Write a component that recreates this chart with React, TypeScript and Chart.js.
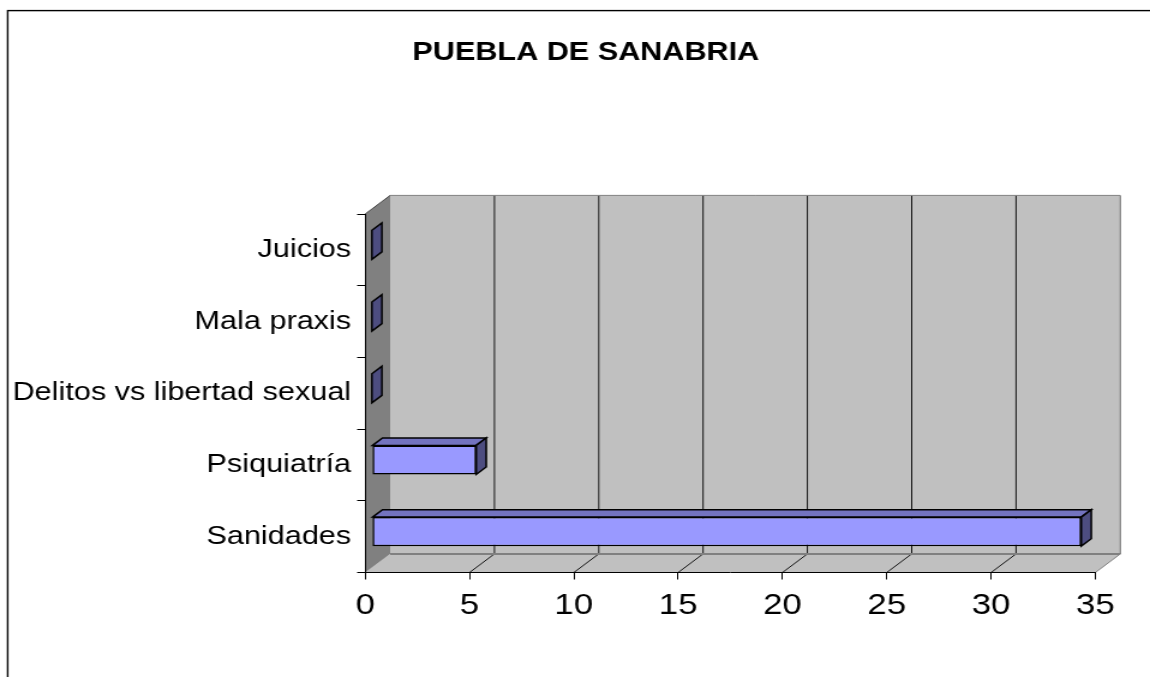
import React, { useEffect, useRef } from "react";
import { Chart, registerables } from "chart.js";

Chart.register(...registerables);

// ---- data ----
const chartTitle = "PUEBLA DE SANABRIA";
const categories = ["Juicios", "Mala praxis", "Delitos vs libertad sexual", "Psiquiatría", "Sanidades"];
const values = [0, 0, 0, 5, 34];
const xMin = 0;
const xMax = 35;
const xStep = 5;

// ---- layout (internal canvas units; canvas is stretched horizontally by CSS) ----
const CSS_W = 1150;
const CSS_H = 677;
const W = 958;
const H = 677;
const DX = 20.8; // depth offset x
const DY = 18.6; // depth offset y
const BAR_FRONT = 0.27;
const BAR_DEPTH = 0.4;
const FONT = "'Liberation Sans', Arial, sans-serif";

function poly(ctx: CanvasRenderingContext2D, pts: number[][], fill?: string, stroke?: string, lw = 1) {
  ctx.beginPath();
  ctx.moveTo(pts[0][0], pts[0][1]);
  for (let i = 1; i < pts.length; i++) ctx.lineTo(pts[i][0], pts[i][1]);
  ctx.closePath();
  if (fill) {
    ctx.fillStyle = fill;
    ctx.fill();
  }
  if (stroke) {
    ctx.strokeStyle = stroke;
    ctx.lineWidth = lw;
    ctx.stroke();
  }
}

function line(ctx: CanvasRenderingContext2D, x1: number, y1: number, x2: number, y2: number, color: string, lw: number) {
  ctx.beginPath();
  ctx.moveTo(x1, y1);
  ctx.lineTo(x2, y2);
  ctx.strokeStyle = color;
  ctx.lineWidth = lw;
  ctx.stroke();
}

const threeDPlugin = {
  id: "threeD",
  beforeDraw(chart: any) {
    const ctx: CanvasRenderingContext2D = chart.ctx;
    const { left: L, right: R, top: T, bottom: B } = chart.chartArea;
    const xs = chart.scales.x;
    ctx.save();
    // outer frame
    ctx.strokeStyle = "#000";
    ctx.lineWidth = 1.4;
    ctx.strokeRect(6.4, 10.6, 3000, 3000);
    // back wall
    poly(ctx, [[L + DX, T - DY], [R + DX, T - DY], [R + DX, B - DY], [L + DX, B - DY]], "#c0c0c0");
    // floor
    poly(ctx, [[L, B], [R, B], [R + DX, B - DY], [L + DX, B - DY]], "#c0c0c0");
    // side wall
    poly(ctx, [[L, T], [L + DX, T - DY], [L + DX, B - DY], [L, B]], "#808080");
    // gridlines on back wall and floor
    for (let v = xMin + xStep; v < xMax; v += xStep) {
      const px = xs.getPixelForValue(v);
      line(ctx, px + DX, T - DY, px + DX, B - DY, "#000", 0.9);
      line(ctx, px, B, px + DX, B - DY, "#000", 0.9);
    }
    // wall outlines
    line(ctx, L + DX, T - DY, R + DX, T - DY, "#808080", 1);
    line(ctx, R + DX, T - DY, R + DX, B - DY, "#808080", 1.2);
    line(ctx, L + DX, B - DY, R + DX, B - DY, "#808080", 2);
    line(ctx, R, B, R + DX, B - DY, "#808080", 1);
    line(ctx, L, T, L + DX, T - DY, "#404040", 1);
    ctx.restore();
  },
  beforeDatasetsDraw(chart: any) {
    const ctx: CanvasRenderingContext2D = chart.ctx;
    ctx.save();
    ctx.translate(DX * BAR_FRONT, -DY * BAR_FRONT);
  },
  afterDatasetsDraw(chart: any) {
    const ctx: CanvasRenderingContext2D = chart.ctx;
    const meta = chart.getDatasetMeta(0);
    const ddx = DX * BAR_DEPTH;
    const ddy = DY * BAR_DEPTH;
    meta.data.forEach((bar: any) => {
      const { x, y, base, height } = bar.getProps(["x", "y", "base", "height"], true);
      const top = y - height / 2;
      const bot = y + height / 2;
      ctx.lineJoin = "miter";
      if (x - base > 0.5) {
        poly(ctx, [[base, top], [base + ddx, top - ddy], [x + ddx, top - ddy], [x, top]], "#7373bf", "#000", 1.5);
      }
      poly(ctx, [[x, top], [x + ddx, top - ddy], [x + ddx, bot - ddy], [x, bot]], "#4d4d80", "#000", 1.5);
    });
    ctx.restore();
  },
  afterDraw(chart: any) {
    const ctx: CanvasRenderingContext2D = chart.ctx;
    ctx.save();
    ctx.font = `bold 25.5px ${FONT}`;
    ctx.fillStyle = "#000";
    ctx.textAlign = "center";
    ctx.textBaseline = "middle";
    ctx.fillText(chartTitle, 488, 53);
    ctx.restore();
  },
};

export default function App() {
  const canvasRef = useRef<HTMLCanvasElement | null>(null);

  useEffect(() => {
    const canvas = canvasRef.current;
    if (!canvas) return;
    const chart = new Chart(canvas, {
      type: "bar",
      data: {
        labels: categories,
        datasets: [
          {
            data: values,
            backgroundColor: "#9999ff",
            borderColor: "#000",
            borderWidth: 1.5,
            borderSkipped: false,
            inflateAmount: 0,
            barPercentage: 0.405,
            categoryPercentage: 1,
          } as any,
        ],
      },
      options: {
        indexAxis: "y",
        responsive: false,
        animation: false,
        devicePixelRatio: 1,
        layout: { padding: { top: 214, right: 45.5, bottom: 20, left: 0 } },
        plugins: {
          legend: { display: false },
          tooltip: { enabled: false },
          title: { display: false },
        },
        scales: {
          x: {
            type: "linear",
            min: xMin,
            max: xMax,
            ticks: {
              stepSize: xStep,
              color: "#000",
              padding: 9,
              font: { family: FONT, size: 29 },
            },
            grid: { drawOnChartArea: false, drawTicks: true, tickLength: 7, color: "#000", offset: false },
            border: { display: true, color: "#000", width: 1 },
            afterFit: (scale: any) => {
              scale.height = 677 - 20 - 572.5;
            },
          },
          y: {
            type: "category",
            ticks: {
              color: "#000",
              padding: 5,
              font: { family: FONT, size: 25.5 },
            },
            grid: { drawOnChartArea: false, drawTicks: true, tickLength: 6.7, color: "#000", offset: true },
            border: { display: true, color: "#000", width: 1 },
            afterFit: (scale: any) => {
              scale.width = 304.2;
            },
          },
        },
      } as any,
      plugins: [threeDPlugin],
    });
    return () => chart.destroy();
  }, []);

  return (
    <div style={{ position: "absolute", left: 0, top: 0, width: CSS_W, height: CSS_H, overflow: "hidden", background: "#fff" }}>
      <canvas
        ref={canvasRef}
        width={W}
        height={H}
        style={{ width: `${CSS_W}px`, height: `${CSS_H}px`, display: "block" }}
      />
    </div>
  );
}
